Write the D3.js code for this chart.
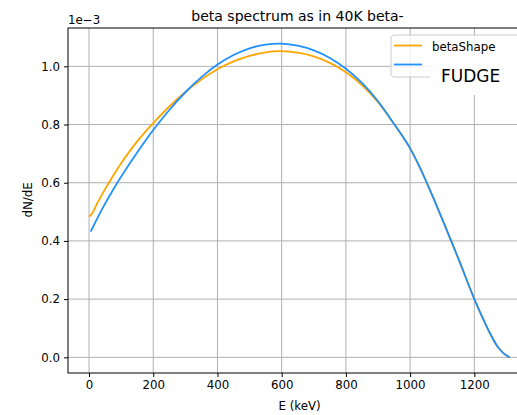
<!DOCTYPE html>
<html>
<head>
<meta charset="utf-8">
<script src="https://cdn.jsdelivr.net/npm/d3@7"></script>
<style>
  body { margin: 0; background: #ffffff; }
  text { font-family: "DejaVu Sans", sans-serif; fill: #000; }
</style>
</head>
<body>
<div id="chart"></div>
<script>
// Chart data (dN/dE in units of 1e-3)
var shapeEnergy = [0, 10, 25, 50, 75, 100, 125, 150, 175, 200, 250, 300, 350, 400, 450, 500, 550, 600, 650, 700, 750, 800, 850, 900, 950, 975, 1000, 1025, 1050, 1075, 1100, 1150, 1200, 1225, 1250, 1275, 1300, 1311];
var shapeValues = [0.483, 0.495, 0.528, 0.578, 0.624, 0.667, 0.706, 0.742, 0.775, 0.805, 0.862, 0.912, 0.955, 0.990, 1.017, 1.036, 1.048, 1.052, 1.047, 1.034, 1.012, 0.980, 0.936, 0.877, 0.802, 0.762, 0.718, 0.665, 0.605, 0.541, 0.475, 0.340, 0.200, 0.138, 0.080, 0.033, 0.006, 0.0];

var fudgeEnergy = [5, 25, 50, 75, 100, 150, 200, 250, 300, 350, 400, 450, 500, 550, 600, 650, 700, 750, 800, 850, 900, 950, 975, 1000, 1025, 1050, 1075, 1100, 1150, 1200, 1225, 1250, 1275, 1300, 1311];
var fudgeValues = [0.432, 0.476, 0.528, 0.576, 0.621, 0.704, 0.781, 0.850, 0.911, 0.963, 1.006, 1.039, 1.062, 1.075, 1.078, 1.071, 1.055, 1.029, 0.992, 0.943, 0.880, 0.802, 0.762, 0.718, 0.665, 0.605, 0.541, 0.475, 0.340, 0.200, 0.138, 0.080, 0.033, 0.006, 0.0];

var xTicks = [0, 200, 400, 600, 800, 1000, 1200];
var yTicks = [0.0, 0.2, 0.4, 0.6, 0.8, 1.0];

// Chart Params
var svgWidth = 517;
var svgHeight = 415;

var margin = {
    top: 28,
    left: 68
};
var width = 463;
var height = 345;

var svg = d3.select("#chart")
    .append("svg")
    .attr("width", svgWidth)
    .attr("height", svgHeight);

var chartGroup = svg.append("g")
    .attr("transform", `translate(${margin.left}, ${margin.top})`);

var x = d3.scaleLinear()
    .domain([-65.5, 1376.5])
    .range([0, width]);

var y = d3.scaleLinear()
    .domain([-0.0539, 1.1318])
    .range([height, 0]);

chartGroup.append("rect")
    .attr("width", width)
    .attr("height", height)
    .attr("fill", "#ffffff");

// grid
chartGroup.selectAll(".xgrid")
    .data(xTicks)
    .enter()
    .append("line")
    .attr("x1", d => x(d))
    .attr("x2", d => x(d))
    .attr("y1", 0)
    .attr("y2", height)
    .attr("stroke", "#b0b0b0")
    .attr("stroke-width", 1);

chartGroup.selectAll(".ygrid")
    .data(yTicks)
    .enter()
    .append("line")
    .attr("x1", 0)
    .attr("x2", width)
    .attr("y1", d => y(d))
    .attr("y2", d => y(d))
    .attr("stroke", "#b0b0b0")
    .attr("stroke-width", 1);

// lines
var shapeData = shapeEnergy.map((e, i) => [e, shapeValues[i]]);
var fudgeData = fudgeEnergy.map((e, i) => [e, fudgeValues[i]]);

var line = d3.line()
    .x(d => x(d[0]))
    .y(d => y(d[1]))
    .curve(d3.curveCatmullRom.alpha(0.5));

chartGroup.append("path")
    .datum(shapeData)
    .attr("d", line)
    .attr("fill", "none")
    .attr("stroke", "#ffa500")
    .attr("stroke-width", 1.8);

chartGroup.append("path")
    .datum(fudgeData)
    .attr("d", line)
    .attr("fill", "none")
    .attr("stroke", "#1e90ff")
    .attr("stroke-width", 1.8);

// axes
var bottomAxis = d3.axisBottom(x)
    .tickValues(xTicks)
    .tickSize(4)
    .tickPadding(4)
    .tickFormat(d3.format("d"));
var leftAxis = d3.axisLeft(y)
    .tickValues(yTicks)
    .tickSize(4)
    .tickPadding(4)
    .tickFormat(d3.format(".1f"));

var xAxisG = chartGroup.append("g")
    .attr("transform", `translate(0, ${height})`)
    .call(bottomAxis);
var yAxisG = chartGroup.append("g")
    .call(leftAxis);

[xAxisG, yAxisG].forEach(function(g) {
    g.select(".domain").remove();
    g.selectAll("line").attr("stroke", "#000").attr("stroke-width", 1);
    g.selectAll("text")
        .attr("font-family", "DejaVu Sans, sans-serif")
        .attr("font-size", "11.8px")
        .attr("fill", "#000");
});

// spines
chartGroup.append("rect")
    .attr("width", width)
    .attr("height", height)
    .attr("fill", "none")
    .attr("stroke", "#000")
    .attr("stroke-width", 1);

// legend
var legend = chartGroup.append("g")
    .attr("transform", `translate(${391 - margin.left}, ${35 - margin.top})`);

legend.append("rect")
    .attr("width", 140)
    .attr("height", 42)
    .attr("rx", 3)
    .attr("fill", "#ffffff")
    .attr("fill-opacity", 0.8)
    .attr("stroke", "#cccccc")
    .attr("stroke-width", 1);

legend.append("line")
    .attr("x1", 3).attr("x2", 31)
    .attr("y1", 10.5).attr("y2", 10.5)
    .attr("stroke", "#ffa500")
    .attr("stroke-width", 1.8);
legend.append("text")
    .attr("x", 41)
    .attr("y", 15.5)
    .attr("font-size", "11.8px")
    .text("betaShape");

legend.append("line")
    .attr("x1", 3).attr("x2", 31)
    .attr("y1", 29.5).attr("y2", 29.5)
    .attr("stroke", "#1e90ff")
    .attr("stroke-width", 1.8);

// FUDGE label with white box
chartGroup.append("rect")
    .attr("x", 430 - margin.left)
    .attr("y", 57 - margin.top)
    .attr("width", 110)
    .attr("height", 38)
    .attr("fill", "#ffffff");
chartGroup.append("text")
    .attr("x", 441 - margin.left)
    .attr("y", 82 - margin.top)
    .attr("font-size", "17px")
    .text("FUDGE");

// labels
svg.append("text")
    .attr("x", margin.left)
    .attr("y", 24)
    .attr("font-size", "11.8px")
    .text("1e\u22123");

svg.append("text")
    .attr("x", 297.5)
    .attr("y", 21)
    .attr("text-anchor", "middle")
    .attr("font-size", "14px")
    .text("beta spectrum as in 40K beta-");

svg.append("text")
    .attr("x", 299.5)
    .attr("y", 410)
    .attr("text-anchor", "middle")
    .attr("font-size", "11.8px")
    .text("E (keV)");

svg.append("text")
    .attr("transform", "rotate(-90)")
    .attr("x", -200)
    .attr("y", 32)
    .attr("text-anchor", "middle")
    .attr("font-size", "11.8px")
    .text("dN/dE");
</script>
</body>
</html>
